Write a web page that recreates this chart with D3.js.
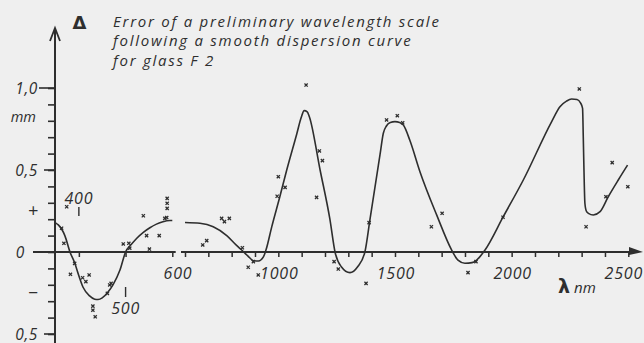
<!DOCTYPE html>
<html><head><meta charset="utf-8">
<script src="https://cdn.jsdelivr.net/npm/d3@7"></script>
<style>
html,body{margin:0;padding:0;background:#efefef;}
svg{display:block;}
</style></head><body>
<script>
// ---- data (wavelength in nm, error in mm) ----
const titleLines = ["Error of a preliminary wavelength scale","following a smooth dispersion curve","for glass F 2"];
const leftCurveWl  = [350,356,363,370,381,391,400,409,423,434,441,450,462,473,488,500,512,524,538,552,566,580,595,600];
const leftCurveVal = [0.178,0.165,0.14,0.1,0,-0.066,-0.145,-0.215,-0.268,-0.288,-0.29,-0.28,-0.245,-0.2,-0.11,0,0.045,0.084,0.12,0.148,0.17,0.185,0.192,0.192];
const rightCurveWl  = [600,664,721,779,821,843,870,893,915,936,947,972,1007,1036,1079,1098,1111,1124,1133,1179,1221,1243,1270,1307,1340,1371,1393,1436,1450,1464,1480,1500,1520,1536,1564,1607,1679,1743,1770,1800,1830,1850,1886,1964,2050,2171,2207,2235,2257,2280,2295,2304,2307,2310,2314,2320,2329,2350,2379,2414,2457,2497];
const rightCurveVal = [0.18,0.175,0.154,0.1,0.04,0.012,-0.025,-0.053,-0.055,-0.03,0.012,0.155,0.34,0.5,0.72,0.82,0.862,0.855,0.825,0.5,0.2,0,-0.09,-0.126,-0.09,0,0.2,0.595,0.724,0.77,0.79,0.795,0.79,0.774,0.68,0.49,0.225,0.012,-0.05,-0.069,-0.065,-0.049,0.012,0.215,0.439,0.794,0.886,0.92,0.933,0.93,0.91,0.876,0.703,0.5,0.297,0.25,0.236,0.226,0.246,0.337,0.439,0.53];
const leftPtsWl  = [363,368,374,391,382,408,415,422,430,430,435,461,466,469,495,507,509,538,545,551,572,584,588,589,589,589];
const leftPtsVal = [0.145,0.053,0.276,-0.069,-0.136,-0.157,-0.181,-0.14,-0.33,-0.355,-0.395,-0.252,-0.201,-0.191,0.049,0.053,0.023,0.221,0.1,0.018,0.1,0.205,0.21,0.327,0.297,0.266];
const rightPtsWl  = [676,693,757,769,790,846,871,893,914,995,1000,1029,1119,1164,1176,1189,1239,1257,1376,1389,1464,1510,1533,1656,1702,1813,1847,1963,2290,2319,2404,2431,2498];
const rightPtsVal = [0.043,0.069,0.205,0.185,0.205,0.026,-0.093,-0.059,-0.14,0.34,0.459,0.394,1.018,0.333,0.616,0.557,-0.059,-0.104,-0.191,0.179,0.805,0.831,0.788,0.154,0.236,-0.126,-0.059,0.212,0.994,0.154,0.337,0.545,0.398];
const yMinorTicks = d3.range(-5, 11).map(d => d / 10);
const yLabels = [{v:1.0,t:"1,0"},{v:0.5,t:"0,5"},{v:0,t:"0"},{v:-0.5,t:"0,5"}];
const ySigns = [{v:0.825,t:"mm"},{v:0.245,t:"+"},{v:-0.25,t:"\u2212"}];
const leftTicks = [400,500,600];
const rightTicks = d3.range(600, 2501, 100);
const rightLabels = [1000,1500,2000,2500];

// ---- layout ----
const W = 644, H = 343, ink = "#2e2e2e";
const FONT = "'Open Sans', sans-serif";
const svg = d3.select("body").append("svg").attr("width", W).attr("height", H);
svg.append("rect").attr("width", W).attr("height", H).attr("fill", "#efefef");
const txt = (sel, size, spacing) => sel.style("font-family", FONT).style("font-style", "italic")
  .style("font-size", size + "px").style("letter-spacing", (spacing || 0) + "px").attr("fill", ink);

const y = d3.scaleLinear().domain([-0.5, 1.0]).range([334, 88]);
const xL = d3.scaleLinear().domain([350, 600]).range([55.5, 172.3]);
const xR = d3.scaleLinear().domain([600, 2500]).range([185, 628.3]);
const axX = 55;

// y axis
const yAx = d3.axisLeft(y).tickValues(yMinorTicks).tickSize(7).tickSizeOuter(0).tickFormat("");
const gy = svg.append("g").attr("transform", `translate(${axX},0)`).call(yAx);
gy.select(".domain").remove();
gy.selectAll("line").attr("stroke", ink).attr("stroke-width", 1.6);
svg.append("line").attr("x1", axX).attr("x2", axX).attr("y1", 29).attr("y2", H).attr("stroke", ink).attr("stroke-width", 2);
svg.append("path").attr("d", `M${axX-5},41L${axX},28L${axX+5},41`).attr("fill","none").attr("stroke", ink).attr("stroke-width", 1.8);
svg.selectAll(".ylong").data(yLabels).join("line")
  .attr("x1", d => d.v === 0 ? 33 : (d.v === 1 ? 39 : 44)).attr("x2", axX)
  .attr("y1", d => y(d.v)).attr("y2", d => y(d.v)).attr("stroke", ink).attr("stroke-width", 1.6);
txt(svg.selectAll(".ylab").data(yLabels).join("text")
  .attr("x", d => d.v === 0 ? 25 : 38).attr("y", d => y(d.v) + 5.5)
  .attr("text-anchor", "end").text(d => d.t), 15.5, 0.6);
svg.selectAll(".ysign").data(ySigns).join("text")
  .attr("x", d => d.t === "mm" ? 36 : 38).attr("y", d => y(d.v) + 5.5)
  .attr("text-anchor", "end").text(d => d.t)
  .style("font-family", FONT).style("font-style", "italic").attr("fill", ink)
  .style("font-size", d => d.t === "mm" ? "14.5px" : "18px");

// x axis, left segment
svg.append("line").attr("x1", 33).attr("x2", 175.7).attr("y1", y(0)).attr("y2", y(0)).attr("stroke", ink).attr("stroke-width", 2);
const gxl = svg.append("g").attr("transform", `translate(0,${y(0)})`)
  .call(d3.axisBottom(xL).tickValues(leftTicks).tickSize(5).tickSizeOuter(0).tickFormat(""));
gxl.select(".domain").remove();
gxl.selectAll("line").attr("stroke", ink).attr("stroke-width", 1.5);
// x axis, right segment
svg.append("line").attr("x1", 181).attr("x2", 632).attr("y1", y(0)).attr("y2", y(0)).attr("stroke", ink).attr("stroke-width", 2);
svg.append("path").attr("d", `M629,${y(0)-5}L643,${y(0)}L629,${y(0)+3}Z`).attr("fill", ink);
const gxr = svg.append("g").attr("transform", `translate(0,${y(0)})`)
  .call(d3.axisBottom(xR).tickValues(rightTicks).tickSize(5).tickSizeOuter(0).tickFormat(""));
gxr.select(".domain").remove();
gxr.selectAll("line").attr("stroke", ink).attr("stroke-width", 1.5);

// x labels
txt(svg.selectAll(".xr").data(rightLabels).join("text")
  .attr("x", d => d === 2500 ? 643 : xR(d) + 1).attr("y", 279)
  .attr("text-anchor", d => d === 2500 ? "end" : "middle").text(d => d), 16, 0.8);
txt(svg.append("text").attr("x", 178).attr("y", 279).attr("text-anchor", "middle").text("600"), 16, 0.8);
txt(svg.append("text").attr("x", xL(400)).attr("y", 203.5).attr("text-anchor", "middle").text("400"), 16, 0.8);
svg.append("line").attr("x1", xL(400)).attr("x2", xL(400)).attr("y1", 207).attr("y2", 216).attr("stroke", ink).attr("stroke-width", 1.4);
txt(svg.append("text").attr("x", xL(500)).attr("y", 313.5).attr("text-anchor", "middle").text("500"), 16, 0.8);
svg.append("line").attr("x1", xL(500)).attr("x2", xL(500)).attr("y1", 287).attr("y2", 297).attr("stroke", ink).attr("stroke-width", 1.4);
const lam = svg.append("text").attr("x", 558).attr("y", 293).attr("fill", ink);
lam.append("tspan").style("font-family", "'DejaVu Sans', sans-serif").style("font-style", "normal")
  .style("font-weight", "bold").style("font-size", "19px").text("\u03bb");
lam.append("tspan").attr("dx", 4).style("font-family", FONT).style("font-style", "italic").style("font-size", "15px").text("nm");

// title
svg.append("text").attr("x", 79.5).attr("y", 28.5).attr("text-anchor", "middle").attr("fill", ink)
  .style("font-family", "'DejaVu Sans', sans-serif").style("font-style", "normal")
  .style("font-weight", "bold").style("font-size", "18px").text("\u0394");
txt(svg.selectAll(".title").data(titleLines).join("text")
  .attr("x", 113).attr("y", (d, i) => 26.5 + i * 19.8).text(d => d), 15, 1.75);

// curves
const line = (xs) => d3.line().x(d => xs(d[0])).y(d => y(d[1])).curve(d3.curveMonotoneX);
svg.append("path").datum(d3.zip(leftCurveWl, leftCurveVal)).attr("d", line(xL))
  .attr("fill", "none").attr("stroke", ink).attr("stroke-width", 1.6);
svg.append("path").datum(d3.zip(rightCurveWl, rightCurveVal)).attr("d", line(xR))
  .attr("fill", "none").attr("stroke", ink).attr("stroke-width", 1.6);

// measured points
const cross = "M-1.6,-1.6L1.6,1.6M-1.6,1.6L1.6,-1.6";
const pts = d3.zip(leftPtsWl, leftPtsVal).map(d => [xL(d[0]), y(d[1])])
  .concat(d3.zip(rightPtsWl, rightPtsVal).map(d => [xR(d[0]), y(d[1])]));
svg.selectAll(".pt").data(pts).join("path")
  .attr("transform", d => `translate(${d[0]},${d[1]})`).attr("d", cross)
  .attr("stroke", ink).attr("stroke-width", 1.3).attr("fill", "none");
</script></body></html>
